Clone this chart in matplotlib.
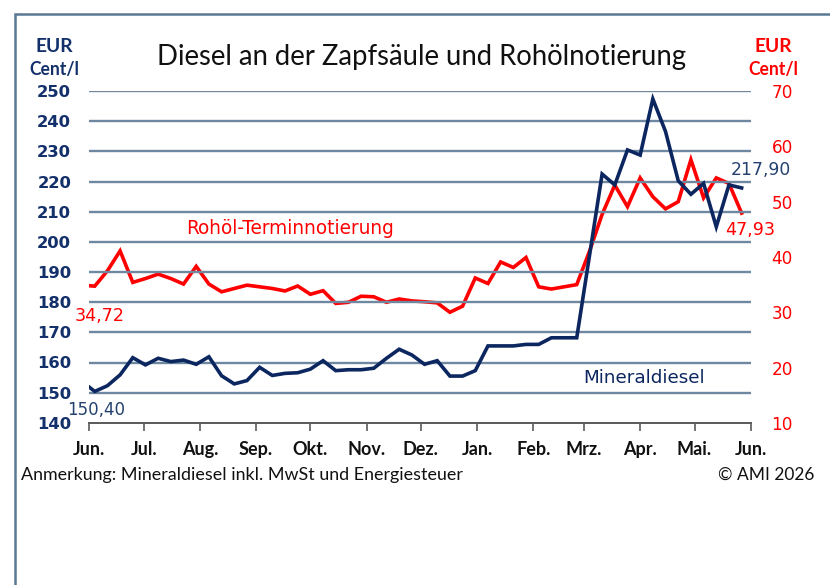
import matplotlib
matplotlib.use("Agg")
import matplotlib.pyplot as plt
import matplotlib.dates as mdates
import matplotlib.patches as mpatches
import pandas as pd
from datetime import datetime

# ---------------- data ----------------
dates = pd.date_range("2025-05-28", periods=53, freq="7D")
diesel = [153.7, 150.4, 152.3, 155.9, 161.6, 159.2, 161.4, 160.3, 160.8, 159.4,
          161.9, 155.6, 152.9, 154.0, 158.4, 155.7, 156.4, 156.6, 157.8, 160.6,
          157.3, 157.6, 157.6, 158.1, 161.4, 164.4, 162.5, 159.4, 160.6, 155.5,
          155.5, 157.3, 165.5, 165.5, 165.5, 166.0, 166.0, 168.2, 168.2, 168.2,
          195.3, 222.5, 218.9, 230.5, 228.8, 247.4, 236.6, 220.3, 215.8, 219.4,
          205.0, 218.9, 217.9]
crude = [34.9, 34.72, 37.5, 41.1, 35.4, 36.1, 36.9, 36.1, 35.1, 38.3,
         35.1, 33.7, 34.3, 34.9, 34.6, 34.3, 33.85, 34.75, 33.25, 33.9,
         31.6, 31.8, 32.9, 32.8, 31.8, 32.4, 32.05, 31.9, 31.7, 30.0,
         31.1, 36.2, 35.2, 39.1, 38.1, 39.9, 34.6, 34.2, 34.6, 35.0,
         41.0, 47.7, 53.0, 49.1, 54.3, 50.9, 48.7, 50.0, 57.6, 50.7,
         54.3, 53.3, 47.93]
month_starts = pd.date_range("2025-06-01", "2026-06-01", freq="MS")
month_labels = ["Jun.", "Jul.", "Aug.", "Sep.", "Okt.", "Nov.", "Dez.",
                "Jan.", "Feb.", "Mrz.", "Apr.", "Mai.", "Jun."]
left_ticks = list(range(140, 251, 10))
right_ticks = list(range(10, 71, 10))

title = "Diesel an der Zapfsäule und Rohölnotierung"
note = "Anmerkung: Mineraldiesel inkl. MwSt und Energiesteuer"
copyright_txt = "© AMI 2026"

NAVY = "#0c2660"
NAVY_T = "#13306b"
NAVY_L = "#24426f"
RED = "#ff0000"
GRID = "#6f88a1"
FRAME = "#5b7893"
COND = ["Liberation Sans Narrow", "Lato", "DejaVu Sans"]
NUM = ["DejaVu Sans"]

W, H = 830, 585
fig = plt.figure(figsize=(W / 100, H / 100), dpi=100)
fig.patch.set_facecolor("white")

# frame
fig.add_artist(mpatches.Rectangle((15 / W, -0.1), 1.2, (585 - 14) / H + 0.1,
                                  transform=fig.transFigure, fill=False,
                                  edgecolor=FRAME, linewidth=1.8, clip_on=False))

x0, x1 = 89.3, 750.7
ytop, ybot = 91.15, 422.8
ax = fig.add_axes([x0 / W, (H - ybot) / H, (x1 - x0) / W, (ybot - ytop) / H])
ax.set_facecolor("none")
ax.set_xlim(datetime(2025, 6, 1), datetime(2026, 6, 1))
ax.set_ylim(140, 250)
ax2 = ax.twinx()
ax2.set_ylim(10, 70)

for a in (ax, ax2):
    for s in ("top", "left", "right"):
        a.spines[s].set_visible(False)
    a.spines["bottom"].set_visible(False)

ax.spines["bottom"].set_visible(True)
ax.spines["bottom"].set_color("#5a5a5a")
ax.spines["bottom"].set_linewidth(1.4)
ax.spines["bottom"].set_zorder(5)

ax.set_yticks(left_ticks)
ax.set_yticklabels([str(v) for v in left_ticks])
ax2.set_yticks(right_ticks)
ax2.set_yticklabels([str(v) for v in right_ticks])
ax.tick_params(axis="y", length=0, pad=13, labelsize=11.8, labelcolor=NAVY_T)
ax2.tick_params(axis="y", length=0, pad=15, labelsize=12.2, labelcolor=RED)
for lab in ax.get_yticklabels():
    lab.set_fontfamily(NUM)
    lab.set_fontweight("bold")
for lab in ax2.get_yticklabels():
    lab.set_fontfamily(NUM)

ax.set_xticks(month_starts)
ax.set_xticklabels(month_labels)
ax.tick_params(axis="x", direction="out", length=6, width=1.2, color="#5a5a5a",
               pad=7, labelsize=13, labelcolor="#111111")
for lab in ax.get_xticklabels():
    lab.set_fontfamily(COND)
    lab.set_fontweight("bold")

for v in left_ticks[1:]:
    ax.axhline(v, color=GRID, linewidth=1.7, zorder=1)

ax2.plot(dates, crude, color=RED, linewidth=2.6, zorder=3, solid_joinstyle="miter")
ax.plot(dates, diesel, color=NAVY, linewidth=2.6, zorder=4, solid_joinstyle="miter")
ax.set_zorder(2)
ax2.set_zorder(1)
# put crude under diesel: draw crude on ax2 (behind), keep ax transparent
ax2.patch.set_visible(False)

renderer = fig.canvas.get_renderer()


def fit(t, width_px):
    bb = t.get_window_extent(renderer)
    t.set_fontsize(t.get_fontsize() * width_px / bb.width)


# annotations near points
a1 = ax.annotate("150,40", (dates[1], diesel[1]), xytext=(1.5, -18.5),
                 textcoords="offset pixels", ha="center", va="center",
                 color=NAVY_L, fontfamily=NUM, fontsize=12, zorder=6)
fit(a1, 57.7)
a2 = ax.annotate("217,90", (dates[-1], diesel[-1]), xytext=(19, 17.5),
                 textcoords="offset pixels", ha="center", va="center",
                 color=NAVY_L, fontfamily=NUM, fontsize=12, zorder=6)
fit(a2, 60)
a3 = ax2.annotate("34,72", (dates[1], crude[1]), xytext=(4.4, -29.5),
                  textcoords="offset pixels", ha="center", va="center",
                  color=RED, fontfamily=NUM, fontsize=12, zorder=6)
fit(a3, 50)
a4 = ax2.annotate("47,93", (dates[-1], crude[-1]), xytext=(8.5, -17),
                  textcoords="offset pixels", ha="center", va="center",
                  color=RED, fontfamily=NUM, fontsize=12, zorder=6)
fit(a4, 50)

# series labels
t_r = fig.text(186 / W, 1 - 228.5 / H, "Rohöl-Terminnotierung", color=RED,
               fontfamily=NUM, fontsize=12, ha="left", va="center")
fit(t_r, 208)
t_m = fig.text(583.3 / W, 1 - 377.7 / H, "Mineraldiesel", color=NAVY,
               fontfamily=NUM, fontsize=12, ha="left", va="center")
fit(t_m, 122)

# title
t_t = fig.text(422 / W, 1 - 57 / H, title, color="#111111", fontfamily=COND,
               fontsize=18, ha="center", va="center")
fit(t_t, 530)

# unit labels
for (cx, col) in ((54.5, NAVY_T), (773, RED)):
    e = fig.text(cx / W, 1 - 46.5 / H, "EUR", color=col, fontfamily=COND,
                 fontsize=13, fontweight="bold", ha="center", va="center")
    fit(e, 37.6)
    c = fig.text(cx / W, 1 - 69 / H, "Cent/l", color=col, fontfamily=COND,
                 fontsize=13, fontweight="bold", ha="center", va="center")
    fit(c, 50)

# footnotes
f1 = fig.text(21 / W, 1 - 475 / H, note, color="#111111", fontfamily=COND,
              fontsize=11, ha="left", va="center")
fit(f1, 441)
f2 = fig.text(814 / W, 1 - 475 / H, copyright_txt, color="#111111",
              fontfamily=COND, fontsize=11, ha="right", va="center")
fit(f2, 96)

fig.savefig("out.png", dpi=100)
